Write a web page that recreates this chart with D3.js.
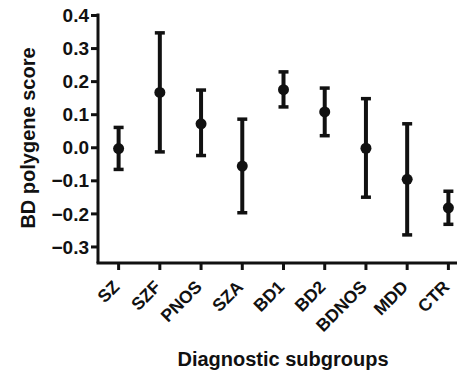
<!DOCTYPE html>
<html><head><meta charset="utf-8">
<script src="https://cdn.jsdelivr.net/npm/d3@7"></script>
<style>
body{margin:0;background:#fff;}
text{font-family:"Liberation Sans",Arial,sans-serif;font-weight:bold;fill:#111;}
</style></head>
<body>
<svg id="chart" width="457" height="373"></svg>
<script>
const categories = ["SZ","SZF","PNOS","SZA","BD1","BD2","BDNOS","MDD","CTR"];
const means = [-0.004, 0.166, 0.071, -0.057, 0.174, 0.107, -0.003, -0.097, -0.183];
const upper = [0.060, 0.346, 0.173, 0.085, 0.228, 0.179, 0.147, 0.071, -0.133];
const lower = [-0.067, -0.014, -0.025, -0.198, 0.122, 0.035, -0.151, -0.265, -0.233];
const yTicks = [-0.3,-0.2,-0.1,0.0,0.1,0.2,0.3,0.4];

const svg = d3.select("#chart");
const x = d3.scaleBand().domain(categories).range([98, 469]);
const y = d3.scaleLinear().domain([-0.35, 0.4]).range([263, 15]);
const ink = "#111";

const yAxis = svg.append("g").attr("transform","translate(98,0)")
  .call(d3.axisLeft(y).tickValues(yTicks).tickFormat(d3.format(".1f")).tickSize(7).tickSizeOuter(0));
yAxis.select(".domain").attr("stroke",ink).attr("stroke-width",3)
  .attr("d", `M0,${y(0.4)-1.5}V${263}`);
yAxis.selectAll(".tick line").attr("stroke",ink).attr("stroke-width",3);
yAxis.selectAll(".tick text").attr("font-size",19).attr("x",-9).attr("dy","0.35em");

const xAxis = svg.append("g").attr("transform","translate(0,263)")
  .call(d3.axisBottom(x).tickSize(7).tickSizeOuter(0));
xAxis.select(".domain").attr("stroke",ink).attr("stroke-width",3).attr("d",`M96.5,0H469`);
xAxis.selectAll(".tick line").attr("stroke",ink).attr("stroke-width",3);
xAxis.selectAll(".tick text")
  .attr("font-size",17.5)
  .attr("text-anchor","end")
  .attr("dy",0).attr("y",0)
  .attr("transform","translate(2,25) rotate(-45)");

const g = svg.append("g");
const cap = 5;
categories.forEach((c,i)=>{
  const cx = x(c) + x.bandwidth()/2;
  g.append("line").attr("x1",cx).attr("x2",cx).attr("y1",y(upper[i])).attr("y2",y(lower[i]))
    .attr("stroke",ink).attr("stroke-width",4);
  [upper[i], lower[i]].forEach(v=>{
    g.append("line").attr("x1",cx-cap).attr("x2",cx+cap).attr("y1",y(v)).attr("y2",y(v))
      .attr("stroke",ink).attr("stroke-width",3.5);
  });
  g.append("circle").attr("cx",cx).attr("cy",y(means[i])).attr("r",5.5).attr("fill",ink);
});

svg.append("text").attr("transform","translate(35,138) rotate(-90)")
  .attr("text-anchor","middle").attr("font-size",20).text("BD polygene score");
svg.append("text").attr("x",283).attr("y",366)
  .attr("text-anchor","middle").attr("font-size",20).text("Diagnostic subgroups");
</script>
</body></html>
